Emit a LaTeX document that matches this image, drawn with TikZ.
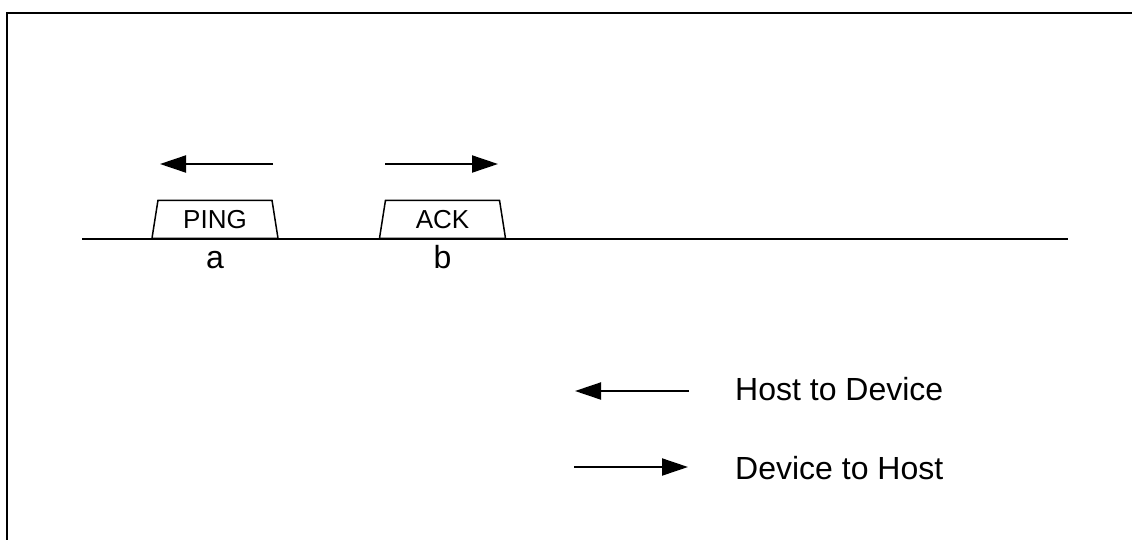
\documentclass[tikz,border=0pt]{standalone}
\usepackage{fontspec}
\setmainfont{Liberation Sans}
\usetikzlibrary{positioning,shapes.geometric,arrows.meta}

\begin{document}
\begin{tikzpicture}[x=1pt, y=-1pt,
			packet/.style={trapezium, draw=black, line width=1.5pt, trapezium stretches body,
				trapezium left angle=72, trapezium right angle=72,
				minimum width=126pt, minimum height=38pt, inner sep=0pt,
				font=\fontsize{26}{30}\selectfont},
			tag/.style={inner sep=0pt, font=\fontsize{32}{36}\selectfont},
			dirarrow/.style={-{Triangle[length=26pt,width=17pt]}, line width=2pt},
		]
		
			\useasboundingbox (0,0) rectangle (1132,539);
		
			%Frame
			\draw[line width=2.5pt] (7,545) -- (7,13) -- (1140,13);
		
			%Nodes
			\node[packet, anchor=south]		(ping)	at (215,239)	{PING};
			\node[packet, anchor=south]		(ack)	at (442.5,239)	{ACK};
			\node[tag, anchor=base]			(a)		at (215,268)	{a};
			\node[tag, anchor=base]			(b)		at (442.5,268)	{b};
			\node[tag, anchor=west]			(h2d)	at (735,389)	{Host to Device};
			\node[tag, anchor=west]			(d2h)	at (735,468)	{Device to Host};
		
			%Coordinates
			\coordinate (l0) at (82,239);
			\coordinate (l1) at (1068,239);
			\coordinate (pa) at (273,164);
			\coordinate (pb) at (160,164);
			\coordinate (aa) at (385,164);
			\coordinate (ab) at (498,164);
			\coordinate (ha) at (689,391);
			\coordinate (hb) at (575,391);
			\coordinate (da) at (574,467);
			\coordinate (db) at (688,467);
		
			%Lines
			\draw[line width=1.5pt]	(l0) -- (l1);
			\draw[dirarrow]	(pa) -- (pb);
			\draw[dirarrow]	(aa) -- (ab);
			\draw[dirarrow]	(ha) -- (hb);
			\draw[dirarrow]	(da) -- (db);
		
		\end{tikzpicture}
\end{document}
